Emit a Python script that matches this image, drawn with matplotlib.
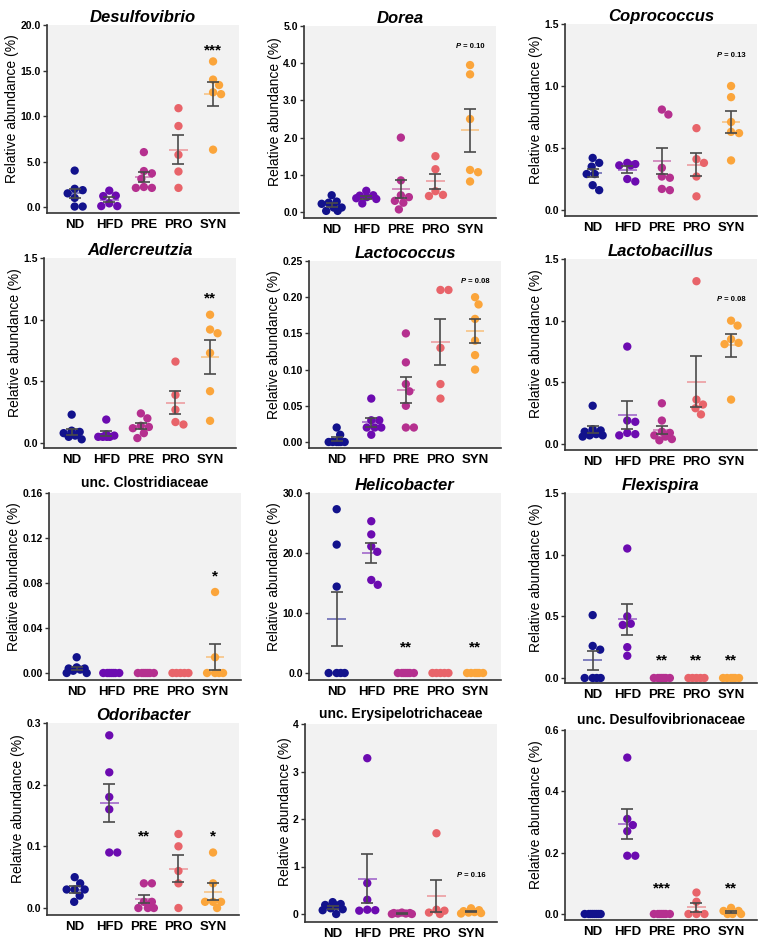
import numpy as np
import matplotlib
matplotlib.use('Agg')
import matplotlib.pyplot as plt

plt.rcParams['font.family'] = ['Liberation Sans', 'DejaVu Sans']

groups = ['ND', 'HFD', 'PRE', 'PRO', 'SYN']
colors = ['#12128C', '#6C0BB0', '#B5308F', '#E8646A', '#FBA53B']

# relative abundance (%) per group: ND, HFD, PRE, PRO, SYN
desulfovibrio = [[4.0, 2.0, 1.85, 1.5, 1.0, 0.05, 0.05],
                 [1.8, 1.25, 1.2, 0.4, 0.1, 0.1],
                 [6.03, 3.95, 3.7, 3.1, 2.2, 2.1, 2.1],
                 [10.86, 8.9, 5.74, 3.9, 2.1],
                 [16.0, 14.0, 13.4, 12.6, 12.4, 6.3]]
dorea = [[0.45, 0.28, 0.25, 0.22, 0.12, 0.12, 0.03, 0.03],
         [0.57, 0.45, 0.44, 0.40, 0.37, 0.35, 0.23],
         [2.0, 0.85, 0.45, 0.40, 0.30, 0.25, 0.07],
         [1.5, 1.15, 0.56, 0.46, 0.43],
         [3.95, 3.7, 2.5, 1.13, 1.07, 0.82]]
coprococcus = [[0.42, 0.38, 0.35, 0.29, 0.29, 0.20, 0.16],
               [0.38, 0.37, 0.36, 0.36, 0.25, 0.23],
               [0.81, 0.77, 0.34, 0.27, 0.26, 0.17, 0.16],
               [0.66, 0.41, 0.38, 0.27, 0.11],
               [1.0, 0.91, 0.71, 0.63, 0.62, 0.40]]
adlercreutzia = [[0.23, 0.10, 0.09, 0.08, 0.06, 0.05, 0.03],
                 [0.19, 0.07, 0.06, 0.05, 0.05, 0.05, 0.05],
                 [0.24, 0.20, 0.14, 0.13, 0.12, 0.08, 0.04],
                 [0.66, 0.39, 0.27, 0.17, 0.15],
                 [1.04, 0.92, 0.89, 0.73, 0.42, 0.18]]
lactococcus = [[0.02, 0.01, 0.0, 0.0, 0.0, 0.0, 0.0, 0.0],
               [0.06, 0.03, 0.03, 0.02, 0.02, 0.02, 0.01],
               [0.15, 0.11, 0.08, 0.07, 0.05, 0.02, 0.02],
               [0.21, 0.21, 0.13, 0.08, 0.06],
               [0.20, 0.19, 0.17, 0.14, 0.12, 0.10]]
lactobacillus = [[0.31, 0.12, 0.11, 0.10, 0.08, 0.07, 0.07, 0.06],
                 [0.79, 0.19, 0.18, 0.09, 0.08, 0.07],
                 [0.33, 0.19, 0.10, 0.09, 0.07, 0.06, 0.04, 0.03],
                 [1.32, 0.36, 0.32, 0.29, 0.24],
                 [1.0, 0.96, 0.85, 0.82, 0.81, 0.36]]
clostridiaceae = [[0.014, 0.005, 0.004, 0.004, 0.003, 0.002, 0.0, 0.0],
                  [0.0] * 7,
                  [0.0] * 7,
                  [0.0] * 5,
                  [0.072, 0.014, 0.0, 0.0, 0.0, 0.0]]
helicobacter = [[27.3, 21.4, 14.4, 0.0, 0.0, 0.0, 0.0],
                [25.3, 23.1, 21.1, 20.2, 15.5, 14.7],
                [0.0] * 7,
                [0.0] * 5,
                [0.0] * 6]
flexispira = [[0.51, 0.26, 0.23, 0.0, 0.0, 0.0, 0.0],
              [1.05, 0.50, 0.44, 0.43, 0.25, 0.18],
              [0.0] * 7,
              [0.0] * 5,
              [0.0] * 6]
odoribacter = [[0.05, 0.04, 0.03, 0.03, 0.03, 0.02, 0.01],
               [0.28, 0.22, 0.18, 0.16, 0.09, 0.09],
               [0.04, 0.04, 0.01, 0.01, 0.0, 0.0, 0.0],
               [0.12, 0.10, 0.06, 0.04, 0.0],
               [0.09, 0.04, 0.01, 0.01, 0.01, 0.0]]
erysipelotrichaceae = [[0.25, 0.21, 0.19, 0.18, 0.12, 0.10, 0.08, 0.0],
                       [3.28, 0.65, 0.30, 0.09, 0.08, 0.07],
                       [0.03, 0.02, 0.02, 0.01, 0.01, 0.0, 0.0],
                       [1.70, 0.09, 0.07, 0.03, 0.0],
                       [0.12, 0.08, 0.06, 0.04, 0.03, 0.02, 0.01]]
desulfovibrionaceae = [[0.0] * 8,
                       [0.51, 0.31, 0.29, 0.27, 0.19, 0.19],
                       [0.0] * 7,
                       [0.07, 0.04, 0.0, 0.0, 0.0],
                       [0.02, 0.01, 0.01, 0.0, 0.0, 0.0]]

panel_data = [desulfovibrio, dorea, coprococcus, adlercreutzia, lactococcus,
              lactobacillus, clostridiaceae, helicobacter, flexispira,
              odoribacter, erysipelotrichaceae, desulfovibrionaceae]
titles = ['Desulfovibrio', 'Dorea', 'Coprococcus', 'Adlercreutzia',
          'Lactococcus', 'Lactobacillus', 'unc. Clostridiaceae', 'Helicobacter',
          'Flexispira', 'Odoribacter', 'unc. Erysipelotrichaceae',
          'unc. Desulfovibrionaceae']
italic = [True, True, True, True, True, True, False, True, True, True, False, False]
yticks = [[0, 5, 10, 15, 20], [0, 1, 2, 3, 4, 5], [0, 0.5, 1.0, 1.5],
          [0, 0.5, 1.0, 1.5], [0, 0.05, 0.10, 0.15, 0.20, 0.25],
          [0, 0.5, 1.0, 1.5], [0, 0.04, 0.08, 0.12, 0.16], [0, 10, 20, 30],
          [0, 0.5, 1.0, 1.5], [0, 0.1, 0.2, 0.3], [0, 1, 2, 3, 4],
          [0, 0.2, 0.4, 0.6]]
yfmt = ['%.1f', '%.1f', '%.1f', '%.1f', '%.2f', '%.1f', '%.2f', '%.1f',
        '%.1f', '%.1f', '%d', '%.1f']
# significance marks: (group index, value, text)
marks = [[(4, 17.4, '***')],
         [(4, 4.49, 'P = 0.10')],
         [(4, 1.255, 'P = 0.13')],
         [(4, 1.19, '**')],
         [(4, 0.224, 'P = 0.08')],
         [(4, 1.186, 'P = 0.08')],
         [(4, 0.0877, '*')],
         [(2, 4.6, '**'), (4, 4.6, '**')],
         [(2, 0.159, '**'), (3, 0.159, '**'), (4, 0.159, '**')],
         [(2, 0.119, '**'), (4, 0.119, '*')],
         [(4, 0.84, 'P = 0.16')],
         [(2, 0.092, '***'), (4, 0.092, '**')]]

# panel boxes in pixels: left, top, bottom axis line, y=0 line
boxes = [(47, 25, 213, 207), (304, 26, 218, 212), (565, 24, 216, 210),
         (44, 258, 448, 443), (309, 261, 448, 442), (565, 259, 450, 444),
         (49, 493, 680, 673), (309, 493, 680, 673), (565, 493, 683, 678),
         (47, 723, 915, 908), (305, 724, 922, 914), (565, 730, 920, 914)]

W, H = 768, 942
AXW = 192
XL, XR = -0.8, 4.75


def swarm(vals, ppy, d=8.0, cap=10.0):
    # simple beeswarm in pixel space, rows squeezed inside +-cap
    vals = np.asarray(vals, dtype=float)
    order = np.argsort(-vals, kind='stable')
    cands = np.arange(-cap, cap + 0.01, 0.5)
    cands = cands[np.argsort(np.abs(cands) - 0.01 * np.sign(cands), kind='stable')]
    placed = []
    offs = np.zeros(len(vals))
    for i in order:
        y = vals[i] * ppy
        if not placed:
            offs[i] = 0.0
            placed.append((0.0, y))
            continue
        pts = np.array(placed)
        dist = np.sqrt((cands[:, None] - pts[None, :, 0]) ** 2 +
                       (y - pts[None, :, 1]) ** 2).min(axis=1)
        ok = np.where(dist >= d)[0]
        j = ok[0] if len(ok) else int(np.argmax(dist))
        offs[i] = cands[j]
        placed.append((cands[j], y))
    return offs


fig = plt.figure(figsize=(W / 100, H / 100), dpi=100)

for p in range(12):
    left, top, bot, zero = boxes[p]
    ymax = yticks[p][-1]
    ymin = -ymax * (bot - zero) / (zero - top)
    ax = fig.add_axes([left / W, 1 - bot / H, AXW / W, (bot - top) / H])
    ax.set_facecolor('#F2F2F2')
    ax.set_xlim(XL, XR)
    ax.set_ylim(ymin, ymax)
    ppx = AXW / (XR - XL)
    ppy = (bot - top) / (ymax - ymin)

    for g, vals in enumerate(panel_data[p]):
        v = np.asarray(vals, dtype=float)
        xs = g + swarm(v, ppy) / ppx
        ax.scatter(xs, v, s=36, color=colors[g], edgecolors='none', zorder=2)
        mean = v.mean()
        sem = v.std(ddof=1) / np.sqrt(len(v))
        ax.hlines(mean, g - 0.27, g + 0.27, color=colors[g], alpha=0.55,
                  lw=1.3, zorder=3)
        if sem > 0:
            ax.errorbar(g, mean, yerr=sem, fmt='none', ecolor='#4A4A4A',
                        elinewidth=1.2, capsize=4.4, capthick=1.2, zorder=4)

    for g, y, txt in marks[p]:
        if txt.startswith('P'):
            ax.annotate('P', (g, y), xytext=(-6.3, -2.0), textcoords='offset points',
                        ha='right', va='baseline', fontsize=5.5, fontweight='bold',
                        style='italic')
            ax.annotate(txt[1:], (g, y), xytext=(-6.6, -2.0), textcoords='offset points',
                        ha='left', va='baseline', fontsize=5.5, fontweight='bold')
        else:
            ax.annotate(txt, (g, y), xytext=(0, -4.5), textcoords='offset points',
                        ha='center', va='baseline', fontsize=11, fontweight='bold')

    ax.set_xticks(range(5))
    ax.set_xticklabels(groups, fontsize=9.5, fontweight='bold')
    ax.tick_params(axis='x', length=0, pad=4)
    ax.set_yticks(yticks[p])
    ax.set_yticklabels([yfmt[p] % t for t in yticks[p]], fontsize=7.5,
                       fontweight='bold')
    ax.tick_params(axis='y', length=3, width=1, color='#333333', pad=1.5)
    for s in ['top', 'right']:
        ax.spines[s].set_visible(False)
    for s in ['left', 'bottom']:
        ax.spines[s].set_color('#333333')
        ax.spines[s].set_linewidth(1.2)
    ax.set_ylabel('Relative abundance (%)', fontsize=10, labelpad=1)
    ax.yaxis.label.set_y(0.555)
    if italic[p]:
        ax.set_title(titles[p], fontsize=12, fontweight='bold', style='italic', pad=1)
    else:
        ax.set_title(titles[p], fontsize=10, fontweight='bold', pad=4.5)

fig.savefig('out.png', dpi=100)
